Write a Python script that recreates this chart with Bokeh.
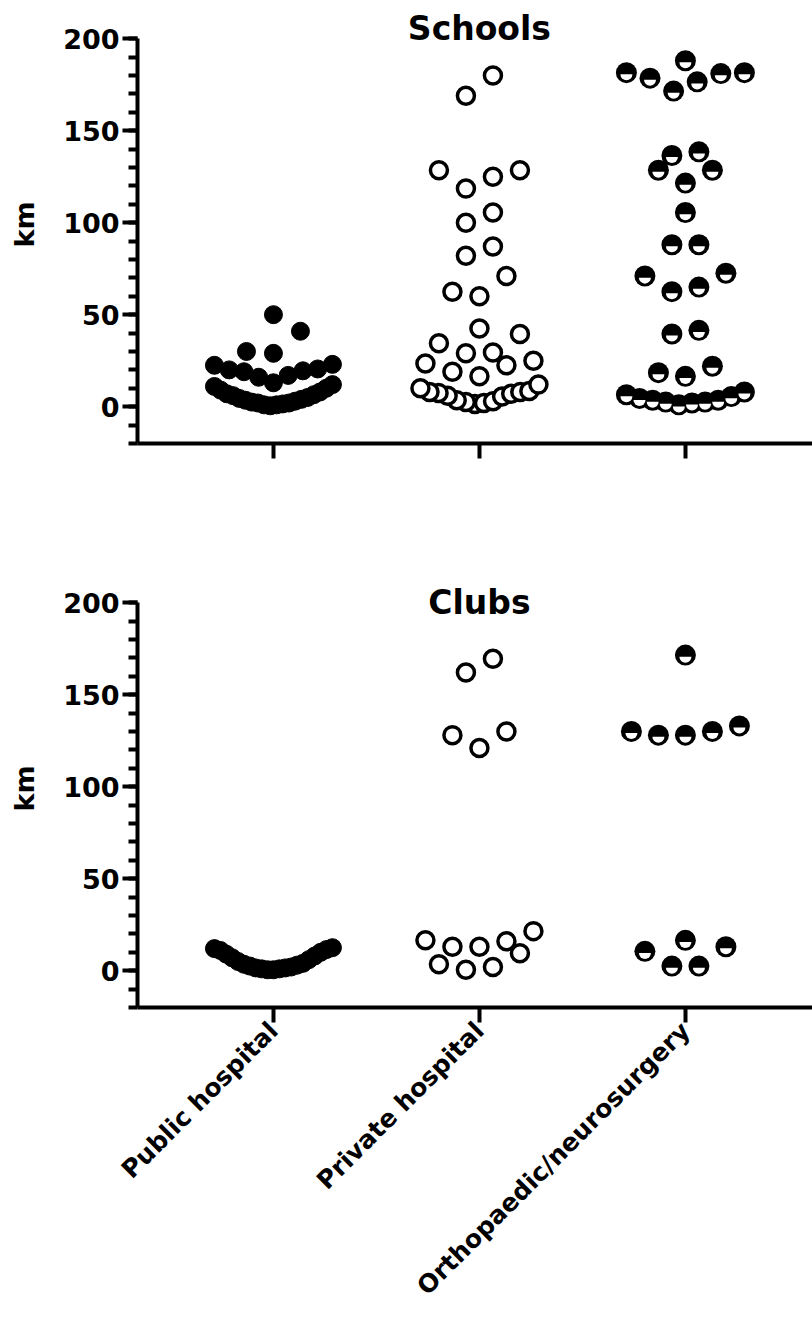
import math
from bokeh.plotting import figure
from bokeh.models import Range1d, SingleIntervalTicker, FixedTicker, Label
from bokeh.layouts import column
from bokeh.embed import file_html
from bokeh.resources import INLINE

# ---------------- data (km) ----------------
categories = ["Public hospital", "Private hospital", "Orthopaedic/neurosurgery"]
panel_titles = ["Schools", "Clubs"]

schools_public = [50, 41, 30, 29, 23, 22.5, 20.5, 20, 19.5, 19, 17, 16,
                  13, 12, 11, 10, 9, 8, 7, 6.5, 6, 5, 4.5, 4, 3.5, 3, 2.5,
                  2, 2, 1.5, 1, 1, 0.5]
schools_private = [180, 169, 128.5, 128.5, 125, 118.5, 105.5, 100, 87, 82,
                   71, 62.5, 60, 42.5, 39.5, 34.5, 29.5, 29, 25, 23.5, 22.5,
                   19, 16.5, 12, 10, 8.5, 8, 8, 7.5, 7, 6, 5.5, 3.5, 3, 2.5,
                   2, 1.5]
schools_ortho = [188, 181.5, 181.5, 181, 178.5, 176.5, 171.5, 138.5, 136.5,
                 128.5, 128.5, 121.5, 105.5, 88, 88, 72.5, 71, 65, 62.5,
                 41.5, 39.5, 22, 18.5, 16.5, 8, 6.5, 5.5, 4.5, 3.5, 3.5,
                 2.5, 2.5, 2, 1]

clubs_public = [12.5, 12, 11.5, 11, 10, 9, 8, 7, 6, 5, 4, 3.5, 3, 2.5, 2,
                1.5, 1.5, 1, 1, 0.5, 0.5]
clubs_private = [169.5, 162, 130, 128, 121, 21.5, 16.5, 16, 13, 13, 9.5,
                 3.5, 2, 0.5]
clubs_ortho = [171.5, 133, 130, 130, 128, 128, 16.5, 13, 10.5, 2.5, 2.5]

# ---------------- layout constants ----------------
X_MIN, X_MAX = 0.34, 3.617
AXIS_MIN, AXIS_MAX = -20, 200      # drawn extent of the y axis
Y_TOP = 218                        # room above the axis for the panel title
FIG_W = 812
BORDER_L = 137
FRAME_W = FIG_W - BORDER_L
FRAME_H = 438
PX_X = FRAME_W / (X_MAX - X_MIN)
PX_Y = FRAME_H / (Y_TOP - AXIS_MIN)
FONT = "DejaVu Sans"


def swarm(values, center, thresh_px=23.0, s_max=27.0, w_max=118.0):
    """Prism-like column scatter: group close values in rows, spread each row."""
    vals = sorted(values)
    xs, ys = [], []
    i = 0
    while i < len(vals):
        j = i
        while j < len(vals) and (vals[j] - vals[i]) * PX_Y <= thresh_px:
            j += 1
        row = vals[i:j]
        k = len(row)
        s = s_max if k < 2 else min(s_max, w_max / (k - 1))
        slots = [(m - (k - 1) / 2.0) * s for m in range(k)]
        slots.sort(key=lambda o: (round(abs(o), 6), o))
        for v, o in zip(row, slots):
            xs.append(center + o / PX_X)
            ys.append(v)
        i = j
    return xs, ys


def make_panel(title, series, height, b_top, b_bottom, title_offset, show_labels):
    p = figure(width=FIG_W, height=height, title=None,
               x_range=Range1d(X_MIN, X_MAX), y_range=Range1d(AXIS_MIN, Y_TOP),
               output_backend="svg", toolbar_location=None,
               min_border_left=BORDER_L, min_border_right=0,
               min_border_top=b_top, min_border_bottom=b_bottom)
    p.outline_line_color = None
    p.grid.visible = False
    p.background_fill_color = "white"

    # y axis
    ya = p.yaxis[0]
    ya.bounds = (AXIS_MIN, AXIS_MAX)
    ya.ticker = SingleIntervalTicker(interval=50, num_minor_ticks=5)
    ya.axis_line_width = 4
    ya.major_tick_line_width = 4
    ya.minor_tick_line_width = 4
    ya.major_tick_out = 15
    ya.major_tick_in = 0
    ya.minor_tick_out = 9
    ya.minor_tick_in = 0
    ya.major_label_standoff = 3
    ya.major_label_text_font = FONT
    ya.major_label_text_font_style = "bold"
    ya.major_label_text_font_size = "27px"
    ya.major_label_text_color = "black"
    ya.axis_label = "km"
    ya.axis_label_text_font = FONT
    ya.axis_label_text_font_style = "bold"
    ya.axis_label_text_font_size = "27px"
    ya.axis_label_text_color = "black"
    ya.axis_label_standoff = 20

    # x axis
    xa = p.xaxis[0]
    xa.ticker = FixedTicker(ticks=[1, 2, 3])
    xa.axis_line_width = 4
    xa.major_tick_line_width = 4
    xa.major_tick_out = 15
    xa.major_tick_in = 0
    xa.minor_tick_line_color = None
    if show_labels:
        xa.major_label_overrides = {i + 1: c for i, c in enumerate(categories)}
        xa.major_label_orientation = math.pi / 4
        xa.major_label_text_font = FONT
        xa.major_label_text_font_style = "bold"
        xa.major_label_text_font_size = "25px"
        xa.major_label_text_color = "black"
        xa.major_label_standoff = 4
    else:
        xa.major_label_overrides = {1: "", 2: "", 3: ""}

    pub, pri, ort = series
    # Public hospital: filled black dots
    x, y = swarm(pub, 1)
    p.scatter(x=x, y=y, size=18, marker="circle", fill_color="black",
              line_color="black", line_width=1)
    # Private hospital: open circles
    x, y = swarm(pri, 2)
    p.scatter(x=x, y=y, size=17, marker="circle", fill_color="white",
              line_color="black", line_width=3.5)
    # Orthopaedic/neurosurgery: black circle with white lower half-disc
    x, y = swarm(ort, 3)
    p.scatter(x=x, y=y, size=21, marker="circle", fill_color="black",
              line_color=None)
    yw = [v - 1.6 / PX_Y for v in y]
    p.wedge(x=x, y=yw, radius=6, radius_units="screen",
            start_angle=math.pi, end_angle=2 * math.pi,
            fill_color="white", line_color=None)

    p.add_layout(Label(x=2, y=AXIS_MAX, text=title, text_align="center",
                       text_baseline="alphabetic", y_offset=title_offset,
                       text_font=FONT, text_font_style="bold",
                       text_font_size="33px", text_color="black"))
    return p


top = make_panel(panel_titles[0], (schools_public, schools_private, schools_ortho),
                 height=508, b_top=5, b_bottom=65, title_offset=10,
                 show_labels=False)
bottom = make_panel(panel_titles[1], (clubs_public, clubs_private, clubs_ortho),
                    height=811, b_top=61, b_bottom=312, title_offset=0,
                    show_labels=True)

layout = column(top, bottom)
open("out.html", "w").write(file_html(layout, INLINE))
